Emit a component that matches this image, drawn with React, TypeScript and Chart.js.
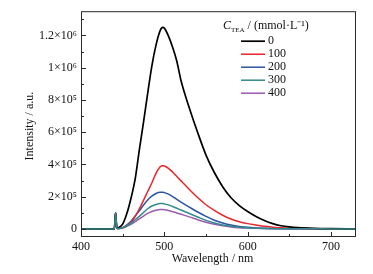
import React, { useEffect, useRef } from 'react';
import { Chart, registerables } from 'chart.js';
Chart.register(...registerables);

const FONT = '"Liberation Serif", "Times New Roman", serif';

const wavelengths = [400, 438, 440, 441.5, 443, 445, 450, 455, 460, 465, 470, 475, 480, 485, 490, 495, 498, 500, 505, 510, 515, 520, 530, 540, 550, 560, 570, 580, 590, 600, 610, 620, 630, 640, 650, 660, 680, 700, 730];

const intensity0 = [0, 0, 0, 100000, 5000, 8000, 30000, 95000, 190000, 310000, 490000, 660000, 840000, 1010000, 1140000, 1230000, 1250000, 1245000, 1195000, 1125000, 1040000, 920000, 750000, 598000, 458000, 350000, 262000, 193000, 145000, 108000, 77000, 52000, 33000, 20000, 12500, 8000, 3500, 1500, 500];
const intensity100 = [0, 0, 0, 100000, 4000, 3000, 8000, 20000, 40000, 78000, 125000, 177000, 232000, 285000, 345000, 385000, 392000, 390000, 376000, 352000, 325000, 298000, 245000, 195000, 150000, 115000, 85000, 62000, 45000, 33000, 24000, 16000, 11000, 7000, 4500, 3000, 1500, 800, 400];
const intensity200 = [0, 0, 0, 100000, 4000, 3000, 8000, 25000, 48000, 80000, 112000, 148000, 180000, 203000, 220000, 227000, 227000, 225000, 216000, 201000, 183000, 166000, 135000, 105000, 78000, 54000, 37000, 24000, 15500, 10000, 6500, 4500, 3000, 2200, 1600, 1200, 700, 400, 200];
const intensity300 = [0, 0, 0, 100000, 4000, 3000, 7000, 20000, 35000, 57000, 78000, 102000, 125000, 142000, 152000, 157000, 157000, 155000, 149000, 139000, 128000, 117000, 96000, 74000, 53000, 37000, 25000, 16000, 10500, 7000, 4500, 3000, 2000, 1500, 1100, 800, 500, 300, 200];
const intensity400 = [0, 0, 0, 100000, 4000, 3000, 6000, 16000, 28000, 45000, 62000, 80000, 96000, 108000, 116000, 120000, 120000, 119000, 114000, 107000, 99000, 91000, 75000, 57000, 41000, 28500, 19000, 12500, 8000, 5200, 3500, 2500, 1800, 1200, 900, 700, 400, 300, 200];

const seriesLabels = ['0', '100', '200', '300', '400'];
const seriesColors = ['#000000', '#e8262b', '#2b55a3', '#338a8c', '#9d5aae'];
const seriesWidths = [1.7, 1.5, 1.5, 1.5, 1.5];
const seriesOrder = [1, 1, 1, 0, 1];

const xTicks = [400, 500, 600, 700];
const xMinorTicks = [450, 550, 650];
const yTicks = [0, 200000, 400000, 600000, 800000, 1000000, 1200000];
const yTickLabels = ['0', '2×10⁵', '4×10⁵', '6×10⁵', '8×10⁵', '1×10⁶', '1.2×10⁶'];
const yMinorTicks = [100000, 300000, 500000, 700000, 900000, 1100000, 1300000];

const xTitle = 'Wavelength / nm';
const yTitle = 'Intensity / a.u.';

const framePlugin = {
  id: 'framePlugin',
  afterDraw(chart: any) {
    const { ctx, chartArea: a, scales } = chart;
    const x = scales.x;
    const y = scales.y;
    ctx.save();
    ctx.strokeStyle = '#2a2a2a';
    ctx.lineWidth = 1;
    ctx.strokeRect(a.left + 0.5, a.top + 0.5, a.right - a.left - 1, a.bottom - a.top - 1);
    ctx.beginPath();
    xTicks.forEach((v) => {
      const px = Math.round(x.getPixelForValue(v)) + 0.5;
      ctx.moveTo(px, a.bottom);
      ctx.lineTo(px, a.bottom - 5);
    });
    xMinorTicks.forEach((v) => {
      const px = Math.round(x.getPixelForValue(v)) + 0.5;
      ctx.moveTo(px, a.bottom);
      ctx.lineTo(px, a.bottom - 3);
    });
    yTicks.forEach((v) => {
      const py = Math.round(y.getPixelForValue(v)) + 0.5;
      ctx.moveTo(a.left, py);
      ctx.lineTo(a.left + 5, py);
    });
    yMinorTicks.forEach((v) => {
      const py = Math.round(y.getPixelForValue(v)) + 0.5;
      ctx.moveTo(a.left, py);
      ctx.lineTo(a.left + 3, py);
    });
    ctx.stroke();

    // axis titles
    ctx.fillStyle = '#111';
    ctx.font = `12px ${FONT}`;
    ctx.textAlign = 'center';
    ctx.textBaseline = 'middle';
    ctx.fillText(xTitle, (a.left + a.right) / 2 - 6, 259);
    ctx.save();
    ctx.translate(30, (a.top + a.bottom) / 2 + 2);
    ctx.rotate(-Math.PI / 2);
    ctx.fillText(yTitle, 0, 0);
    ctx.restore();

    // legend
    const tx = a.right - 133;
    const ty = a.top + 15;
    ctx.textAlign = 'left';
    ctx.font = `italic 12px ${FONT}`;
    ctx.fillText('C', tx, ty);
    let cx = tx + ctx.measureText('C').width;
    ctx.font = `7px ${FONT}`;
    ctx.fillText('TEA', cx, ty + 4);
    cx += ctx.measureText('TEA').width + 3;
    ctx.font = `12px ${FONT}`;
    ctx.fillText('/ (mmol·L⁻¹)', cx, ty);

    chart.data.datasets.forEach((ds: any, i: number) => {
      const ry = a.top + 30 + 13 * i;
      ctx.strokeStyle = ds.borderColor;
      ctx.lineWidth = ds.borderWidth;
      ctx.beginPath();
      ctx.moveTo(a.right - 115, ry);
      ctx.lineTo(a.right - 91, ry);
      ctx.stroke();
      ctx.fillStyle = '#111';
      ctx.font = `12px ${FONT}`;
      ctx.fillText(ds.label, a.right - 88, ry);
    });
    ctx.restore();
  },
};

export default function App() {
  const ref = useRef<HTMLCanvasElement>(null);
  useEffect(() => {
    document.body.style.margin = '0';
    const series = [intensity0, intensity100, intensity200, intensity300, intensity400];
    const chart = new Chart(ref.current as HTMLCanvasElement, {
      type: 'line',
      data: {
        labels: wavelengths,
        datasets: series.map((vals, i) => ({
          label: seriesLabels[i],
          data: wavelengths.map((w, j) => ({ x: w, y: vals[j] })),
          borderColor: seriesColors[i],
          backgroundColor: seriesColors[i],
          borderWidth: seriesWidths[i],
          pointRadius: 0,
          fill: false,
          cubicInterpolationMode: 'monotone' as const,
          order: seriesOrder[i],
        })),
      },
      options: {
        responsive: false,
        animation: false,
        events: [],
        layout: { padding: { top: 8, right: 17, left: 0, bottom: 0 } },
        plugins: { legend: { display: false }, tooltip: { enabled: false } },
        scales: {
          x: {
            type: 'linear',
            min: 400,
            max: 730,
            afterBuildTicks: (s: any) => {
              s.ticks = xTicks.map((v) => ({ value: v }));
            },
            afterFit: (s: any) => {
              s.height = 37;
            },
            grid: { display: false, drawTicks: false },
            border: { display: false },
            ticks: {
              padding: 3,
              color: '#111',
              maxRotation: 0,
              font: { family: FONT, size: 12 },
              callback: (v: any) => String(v),
            },
          },
          y: {
            type: 'linear',
            min: -50000,
            max: 1350000,
            afterBuildTicks: (s: any) => {
              s.ticks = yTicks.map((v) => ({ value: v }));
            },
            afterFit: (s: any) => {
              s.width = 81;
            },
            grid: { display: false, drawTicks: false },
            border: { display: false },
            ticks: {
              padding: 4,
              color: '#111',
              font: { family: FONT, size: 12 },
              callback: (v: any) => {
                const idx = yTicks.indexOf(Number(v));
                return idx >= 0 ? yTickLabels[idx] : '';
              },
            },
          },
        },
      },
      plugins: [framePlugin],
    });
    return () => chart.destroy();
  }, []);
  return <canvas ref={ref} width={373} height={274} style={{ display: 'block' }} />;
}
